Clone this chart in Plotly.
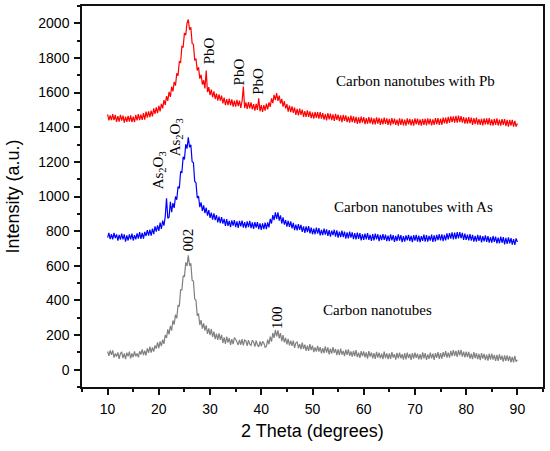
import numpy as np
import plotly.graph_objects as go

# -------------------
# Dados lidos do difratograma (passo de 0.25 grau, 10 a 90)
# -------------------

theta = np.arange(10, 90.01, 0.25)

cnt = [
105, 80, 111, 86, 111, 70, 93, 76, 100, 63, 93, 103, 67, 94, 61, 98,
77, 104, 65, 94, 72, 105, 77, 94, 71, 106, 88, 117, 84, 110, 82, 123,
98, 133, 99, 129, 104, 140, 122, 158, 124, 164, 136, 173, 149, 200, 184, 233,
204, 253, 226, 284, 261, 318, 296, 371, 368, 461, 461, 542, 536, 619, 599, 660,
601, 614, 516, 512, 409, 401, 311, 324, 258, 286, 237, 268, 226, 256, 207, 239,
199, 235, 189, 220, 176, 208, 172, 210, 172, 201, 154, 186, 149, 191, 156, 183,
143, 177, 147, 185, 176, 156, 143, 172, 144, 177, 140, 171, 166, 137, 171, 147,
140, 170, 160, 133, 168, 143, 132, 163, 136, 163, 154, 129, 134, 173, 147, 191,
162, 212, 184, 228, 192, 227, 181, 211, 164, 199, 158, 184, 146, 178, 140, 168,
138, 168, 126, 155, 160, 124, 148, 118, 156, 120, 145, 109, 139, 108, 147, 113,
139, 101, 129, 104, 138, 104, 130, 94, 125, 96, 134, 99, 129, 89, 121, 93,
130, 97, 120, 84, 117, 84, 121, 87, 108, 78, 116, 86, 117, 80, 106, 75,
109, 79, 113, 72, 99, 68, 107, 78, 106, 71, 100, 64, 107, 75, 99, 66,
96, 63, 103, 70, 99, 65, 92, 61, 104, 67, 94, 61, 94, 62, 101, 70,
90, 58, 97, 65, 98, 66, 90, 58, 95, 60, 99, 67, 91, 57, 96, 64,
99, 68, 92, 59, 89, 60, 100, 65, 96, 57, 88, 62, 98, 65, 93, 57,
96, 69, 102, 63, 95, 64, 101, 74, 107, 70, 98, 70, 108, 78, 113, 80,
109, 74, 113, 83, 114, 76, 104, 71, 104, 72, 103, 64, 92, 61, 101, 66,
96, 61, 91, 55, 95, 64, 91, 55, 87, 52, 92, 58, 93, 58, 85, 51,
86, 51, 89, 56, 81, 47, 83, 51, 83, 50, 78, 42, 74, 42, 80, 46,
57,
]

cnt_as = [
762, 790, 754, 782, 752, 790, 760, 781, 745, 778, 751, 786, 752, 781, 740, 775,
746, 781, 753, 785, 746, 777, 753, 787, 757, 794, 756, 790, 757, 796, 772, 806,
774, 809, 774, 814, 783, 828, 797, 833, 802, 849, 813, 861, 832, 884, 990, 874,
881, 970, 909, 962, 934, 1000, 981, 1058, 1046, 1142, 1138, 1229, 1214, 1302, 1276, 1342,
1284, 1299, 1201, 1196, 1088, 1079, 991, 1002, 939, 966, 917, 949, 904, 935, 889, 921,
877, 907, 867, 903, 864, 893, 850, 884, 846, 881, 843, 871, 830, 869, 830, 859,
823, 862, 832, 864, 823, 856, 819, 859, 827, 861, 820, 852, 817, 857, 823, 859,
818, 851, 813, 852, 821, 852, 811, 845, 807, 845, 812, 849, 811, 850, 822, 871,
844, 892, 864, 908, 870, 908, 861, 891, 844, 879, 838, 864, 826, 860, 824, 856,
816, 848, 806, 837, 804, 841, 807, 836, 796, 827, 790, 828, 795, 829, 787, 820,
782, 815, 782, 821, 785, 817, 776, 807, 777, 815, 780, 810, 772, 806, 768, 803,
777, 808, 768, 804, 763, 797, 766, 803, 766, 797, 757, 793, 758, 797, 762, 793,
754, 788, 753, 791, 756, 788, 747, 782, 749, 785, 753, 788, 750, 779, 744, 783,
747, 785, 753, 782, 742, 779, 748, 783, 749, 780, 742, 774, 742, 781, 747, 777,
738, 773, 743, 781, 745, 777, 737, 771, 739, 776, 747, 779, 742, 772, 737, 777,
745, 779, 740, 774, 737, 771, 744, 780, 740, 777, 739, 772, 745, 780, 738, 775,
741, 778, 748, 782, 746, 782, 742, 778, 747, 787, 753, 788, 757, 793, 753, 792,
754, 794, 758, 795, 759, 790, 750, 786, 749, 780, 746, 783, 745, 779, 739, 772,
740, 778, 744, 775, 735, 771, 741, 775, 738, 771, 734, 766, 733, 772, 738, 768,
729, 763, 730, 768, 733, 765, 724, 761, 726, 764, 729, 760, 722, 754, 721, 758,
737,
]

cnt_pb = [
1474, 1440, 1469, 1441, 1476, 1441, 1471, 1431, 1464, 1432, 1472, 1438, 1467, 1427, 1461, 1431,
1465, 1433, 1469, 1430, 1461, 1430, 1471, 1440, 1476, 1441, 1473, 1442, 1481, 1444, 1490, 1456,
1492, 1458, 1496, 1462, 1509, 1477, 1514, 1481, 1524, 1491, 1535, 1509, 1557, 1529, 1580, 1553,
1604, 1575, 1634, 1607, 1662, 1640, 1711, 1698, 1779, 1774, 1867, 1864, 1944, 1931, 2001, 2022,
1963, 1977, 1884, 1879, 1789, 1794, 1728, 1746, 1681, 1703, 1647, 1671, 1624, 1727, 1603, 1632,
1585, 1617, 1573, 1607, 1563, 1594, 1553, 1590, 1553, 1583, 1538, 1571, 1527, 1563, 1527, 1565,
1526, 1561, 1519, 1554, 1519, 1558, 1522, 1554, 1512, 1550, 1635, 1511, 1544, 1506, 1545, 1509,
1544, 1503, 1533, 1496, 1535, 1500, 1567, 1492, 1528, 1488, 1527, 1496, 1536, 1503, 1544, 1517,
1567, 1539, 1587, 1556, 1597, 1552, 1583, 1537, 1564, 1519, 1550, 1508, 1533, 1490, 1525, 1487,
1521, 1483, 1514, 1471, 1506, 1469, 1507, 1472, 1502, 1460, 1493, 1460, 1497, 1459, 1491, 1453,
1485, 1449, 1488, 1454, 1487, 1449, 1487, 1449, 1482, 1444, 1476, 1440, 1482, 1446, 1479, 1441,
1474, 1436, 1477, 1442, 1473, 1435, 1468, 1430, 1472, 1437, 1468, 1429, 1461, 1426, 1467, 1429,
1463, 1425, 1460, 1420, 1457, 1422, 1461, 1426, 1459, 1418, 1453, 1420, 1459, 1422, 1456, 1416,
1451, 1417, 1457, 1421, 1454, 1414, 1450, 1416, 1455, 1419, 1451, 1413, 1448, 1411, 1452, 1418,
1450, 1413, 1444, 1409, 1451, 1414, 1449, 1411, 1444, 1409, 1451, 1416, 1448, 1411, 1446, 1409,
1451, 1417, 1449, 1412, 1446, 1409, 1448, 1414, 1449, 1411, 1451, 1416, 1449, 1410, 1445, 1413,
1453, 1416, 1452, 1414, 1450, 1414, 1456, 1422, 1456, 1420, 1460, 1425, 1463, 1429, 1463, 1427,
1465, 1426, 1467, 1430, 1464, 1426, 1459, 1421, 1456, 1421, 1459, 1422, 1455, 1414, 1453, 1418,
1455, 1415, 1447, 1413, 1449, 1411, 1451, 1417, 1451, 1415, 1452, 1411, 1445, 1409, 1448, 1413,
1451, 1410, 1444, 1409, 1447, 1413, 1447, 1407, 1442, 1404, 1443, 1410, 1442, 1404, 1436, 1404,
1421,
]

series = [
    ("Carbon nanotubes", cnt, "#808080"),
    ("Carbon nanotubes with As", cnt_as, "#0000ff"),
    ("Carbon nanotubes with Pb", cnt_pb, "#ff0000"),
]

# rotulos dos picos: (texto, x, y)
peak_labels = [
    ("PbO", 29.8, 1839),
    ("PbO", 35.6, 1721),
    ("PbO", 39.2, 1663),
    ("As<sub>2</sub>O<sub>3</sub>", 20.0, 1150),
    ("As<sub>2</sub>O<sub>3</sub>", 23.3, 1340),
    ("002", 25.85, 752),
    ("100", 43.2, 302),
]

# nomes das curvas: (texto, x, y)
curve_labels = [
    ("Carbon nanotubes with Pb", 70.2, 1667),
    ("Carbon nanotubes with As", 69.7, 942),
    ("Carbon nanotubes", 62.7, 347),
]

# -------------------
# Figura
# -------------------

fig = go.Figure()

for name, vals, color in series:
    fig.add_trace(go.Scatter(
        x=theta,
        y=vals,
        mode="lines",
        name=name,
        line=dict(color=color, width=1.2),
        hoverinfo="none"
    ))

serif = "Liberation Serif, Times New Roman, serif"
sans = "Liberation Sans, Arial, sans-serif"

for txt, x, y in peak_labels:
    fig.add_annotation(
        x=x, y=y, text=txt, textangle=-90, showarrow=False,
        xanchor="center", yanchor="middle",
        font=dict(family=serif, size=15, color="black")
    )

for txt, x, y in curve_labels:
    fig.add_annotation(
        x=x, y=y, text=txt, showarrow=False,
        xanchor="center", yanchor="middle",
        font=dict(family=serif, size=15, color="black")
    )

axis_common = dict(
    showline=True, linecolor="#111", linewidth=1.5, mirror=True,
    showgrid=False, zeroline=False,
    ticks="outside", ticklen=6, tickwidth=1.5, tickcolor="#111",
    tickfont=dict(family=sans, size=14, color="black"),
)

fig.update_layout(
    width=550,
    height=451,
    autosize=False,
    showlegend=False,
    margin=dict(l=82, r=7, t=4, b=64),
    plot_bgcolor="white",
    paper_bgcolor="white",
    xaxis=dict(
        range=[5, 95], tick0=0, dtick=10, ticklabelstandoff=2,
        minor=dict(ticks="outside", ticklen=3, dtick=5, tick0=0, tickwidth=1.5, tickcolor="#111"),
        title=dict(text="2 Theta (degrees)", font=dict(family=sans, size=18, color="black"), standoff=9),
        **axis_common
    ),
    yaxis=dict(
        range=[-100, 2100], tick0=0, dtick=200, ticklabelstandoff=2,
        minor=dict(ticks="outside", ticklen=3, dtick=100, tick0=0, tickwidth=1.5, tickcolor="#111"),
        title=dict(text="Intensity (a.u.)", font=dict(family=sans, size=18, color="black"), standoff=14),
        **axis_common
    ),
)

# tira a margem padrao do body para a figura ficar em (0,0)
fig.write_html(
    "out.html",
    config={"displayModeBar": False},
    post_script="document.body.style.margin='0';"
)
